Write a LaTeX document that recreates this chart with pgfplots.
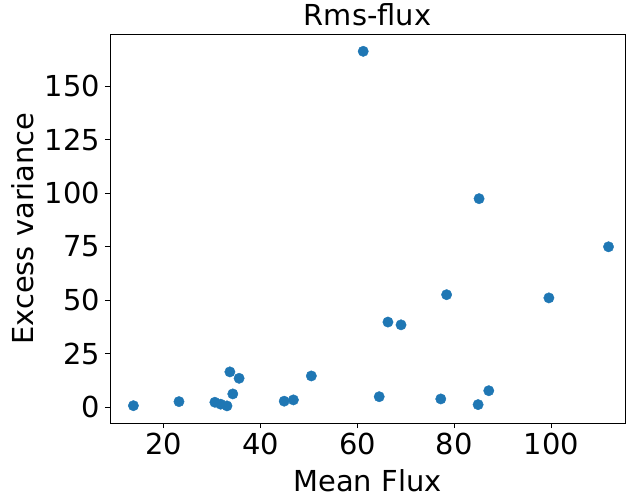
\documentclass[border=0pt]{standalone}
\usepackage{fontspec}
\setmainfont{DejaVu Sans}
\usepackage{pgfplots}
\pgfplotsset{compat=1.18}
\definecolor{mplblue}{HTML}{1F77B4}
\begin{document}
\begin{tikzpicture}
\begin{axis}[
  name=ax,
  scale only axis,
  width=515bp, height=389bp,
  xmin=8.97, xmax=115.2,
  ymin=-7.5, ymax=174.4,
  xtick={20,40,60,80,100},
  ytick={0,25,50,75,100,125,150},
  tick align=outside,
  xtick pos=bottom, ytick pos=left,
  major tick length=5bp,
  tick style={black, line width=0.8bp},
  axis line style={black, line width=0.8bp},
  /pgf/number format/assume math mode=true,
  ticklabel style={font=\fontsize{29}{34}\selectfont},
  xticklabel style={inner sep=2bp, yshift=-3bp},
  yticklabel style={inner sep=2bp, xshift=-3bp},
  label style={font=\fontsize{29}{34}\selectfont},
  xlabel={Mean Flux},
  ylabel={Excess variance},
  xlabel style={at={(axis description cs:0.5,-0.175)}, anchor=base, inner sep=0pt},
  ylabel style={at={(axis description cs:-0.1495,0.5)}, anchor=base, inner sep=0pt},
  title={Rms-flux},
  title style={at={(axis description cs:0.5,1.0206)}, anchor=base, yshift=-6pt, inner sep=0pt, font=\fontsize{29}{34}\selectfont},
  clip=false,
]
\addplot[only marks, mark=*, mark size=5.2bp, mplblue, mark options={draw=mplblue, fill=mplblue}] coordinates {
(13.8,0.6) (23.2,2.5) (30.6,2.2) (31.8,1.3) (33.1,0.5) (33.7,16.4)
(35.6,13.4) (34.3,6.1) (44.9,2.7) (46.8,3.3) (50.5,14.5)
(78.4,52.5) (99.5,51.0) (66.3,39.7) (69.0,38.4) (64.5,4.8)
(77.2,3.75) (84.9,1.1) (87.1,7.6)
(61.2,166.3) (85.1,97.4) (111.8,74.9)
};
\end{axis}
\pgfresetboundingbox
\path[use as bounding box] ([xshift=-110bp,yshift=-74bp]ax.south west) rectangle ([xshift=4bp,yshift=34bp]ax.north east);
\end{tikzpicture}
\end{document}
